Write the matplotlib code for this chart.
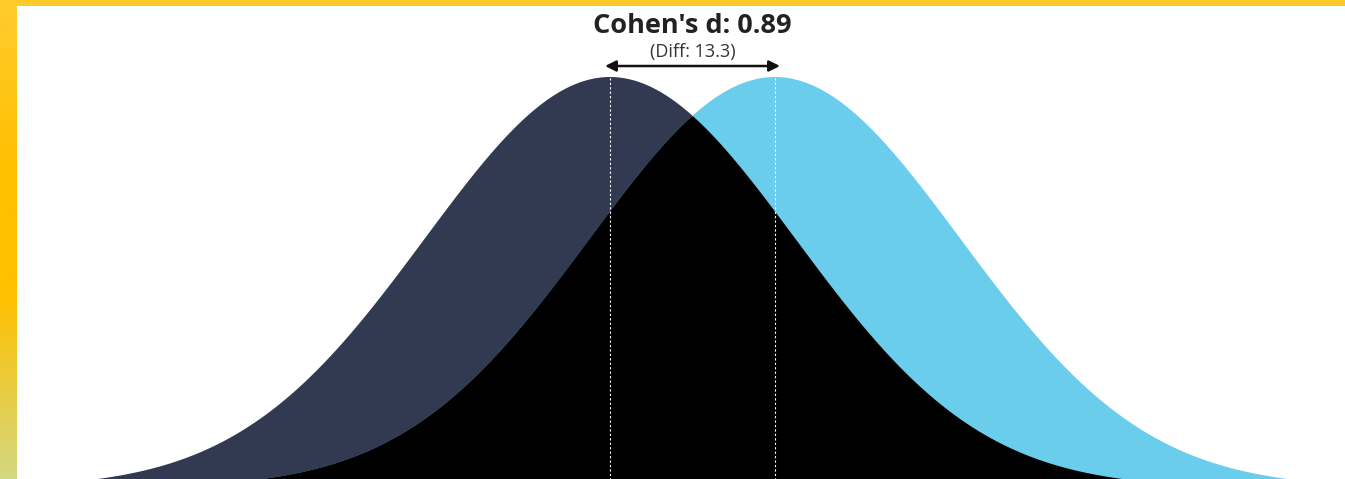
import matplotlib.pyplot as plt
import numpy as np
from matplotlib.colors import LinearSegmentedColormap

# Effect size data
mean_a = 50.0
mean_b = 63.3
pooled_sd = 14.94
cohens_d = (mean_b - mean_a) / pooled_sd
diff = mean_b - mean_a

navy = '#323A52'
sky = '#6ACDEB'

W, H = 1345, 479
fig = plt.figure(figsize=(W / 100, H / 100), dpi=100, facecolor='white')

# gold frame: gradient strip on the left, solid strip on top
grad = LinearSegmentedColormap.from_list(
    'frame', [(0, '#FFCC2F'), (0.35, '#FFC000'), (0.62, '#FFC000'), (1, '#D3D880')])
ax_l = fig.add_axes([0, 0, 17 / W, 1])
ax_l.imshow(np.linspace(0, 1, 256).reshape(-1, 1), cmap=grad, aspect='auto')
ax_l.axis('off')
ax_t = fig.add_axes([0, 1 - 6 / H, 1, 6 / H])
ax_t.set_facecolor('#FFCA2A')
ax_t.set_xticks([])
ax_t.set_yticks([])
for s in ax_t.spines.values():
    s.set_visible(False)

ax = fig.add_axes([17 / W, 0, 1 - 17 / W, 1 - 6 / H])
ax.axis('off')

x = np.linspace(mean_a - 4.5 * pooled_sd, mean_b + 4.5 * pooled_sd, 1200)
pdf_a = np.exp(-0.5 * ((x - mean_a) / pooled_sd) ** 2) / (pooled_sd * np.sqrt(2 * np.pi))
pdf_b = np.exp(-0.5 * ((x - mean_b) / pooled_sd) ** 2) / (pooled_sd * np.sqrt(2 * np.pi))
peak = pdf_a.max()

ax.fill_between(x, 0, pdf_a, color=navy, lw=0)
ax.fill_between(x, 0, pdf_b, color=sky, lw=0)
ax.fill_between(x, 0, np.minimum(pdf_a, pdf_b), color='black', lw=0)

for m in (mean_a, mean_b):
    ax.plot([m, m], [0, peak], color='white', lw=0.8, ls=(0, (2, 2)))

# pixel geometry: baseline sits a little below the image, peak at y=77
base_px, peak_px = 488, 77
span = base_px - peak_px
px_per_unit = 165 / diff
ax.set_xlim(mean_a - 593 / px_per_unit, mean_a + 735 / px_per_unit)
ax.set_ylim(peak * (base_px - 479) / span, peak * (base_px - 6) / span)

y_arrow = peak * (base_px - 66) / span
ax.annotate('', xy=(mean_a - 0.4, y_arrow), xytext=(mean_b + 0.4, y_arrow),
            arrowprops=dict(arrowstyle='<|-|>', color='#111111', lw=1.8,
                            mutation_scale=16, shrinkA=0, shrinkB=0))

mid = (mean_a + mean_b) / 2
ax.text(mid, peak * (base_px - 26) / span, f"Cohen's d: {cohens_d:.2f}", ha='center', va='center',
        fontsize=19.5, fontweight='bold', color='#222222', family='Open Sans')
ax.text(mid, peak * (base_px - 52) / span, f"(Diff: {diff:.1f})", ha='center', va='center',
        fontsize=13, color='#333333', family='Open Sans')

fig.savefig('out.png', dpi=100, facecolor='white')
